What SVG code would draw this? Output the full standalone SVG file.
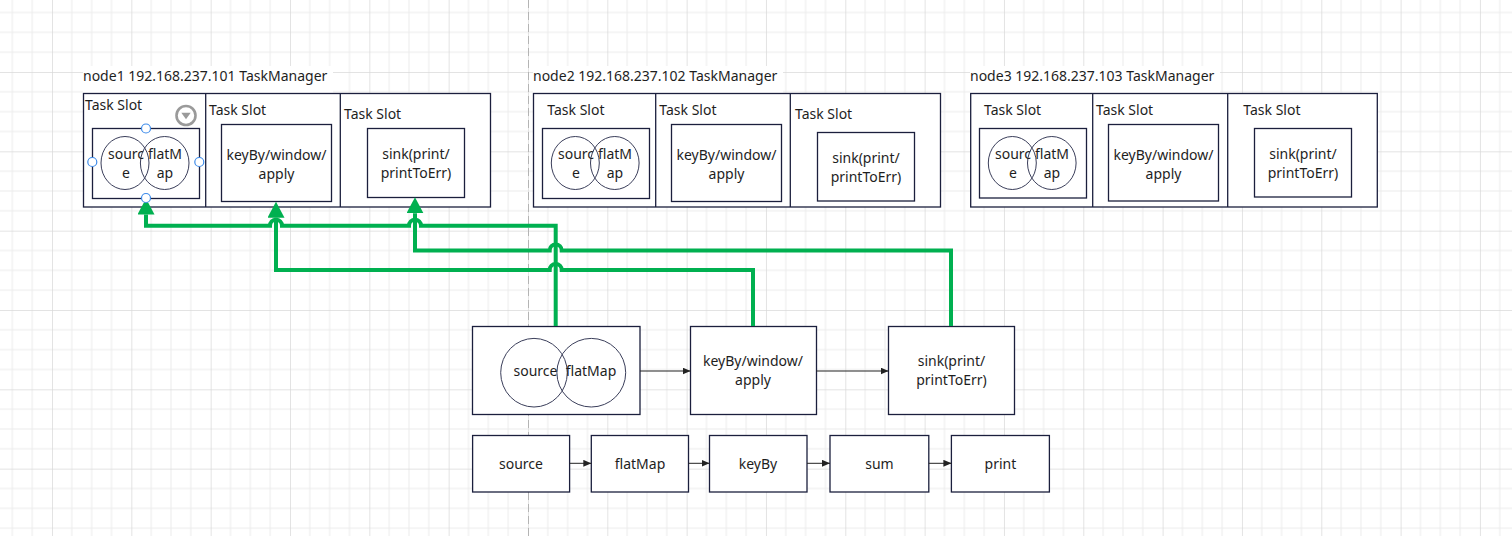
<svg xmlns="http://www.w3.org/2000/svg" width="1512" height="536" viewBox="0 0 1512 536">
<style>
text{font-family:"Noto Sans","Liberation Sans",Arial,sans-serif;font-size:14px;fill:#1e1e1e}
.c{text-anchor:middle}
.box{fill:#fff;stroke:#1b1f3d;stroke-width:1.3}
.div{stroke:#1b1f3d;stroke-width:1.3}
.ell{fill:none;stroke:#3a3e5a;stroke-width:1}
.lbl{fill:#fff}
.flow{fill:none;stroke:#222;stroke-width:1}
.deploy{fill:none;stroke:#00b050;stroke-width:4;stroke-linejoin:miter}
.handle{fill:#fff;stroke:#3d8bea;stroke-width:1.2}
</style>
<defs>
<pattern id="grid" x="52" y="72" width="79.33" height="79.33" patternUnits="userSpaceOnUse">
<rect width="79.33" height="79.33" fill="#fff"/>
<rect x="19.33" y="0" width="1" height="79.33" fill="#ececec"/>
<rect x="39.17" y="0" width="1" height="79.33" fill="#ececec"/>
<rect x="59" y="0" width="1" height="79.33" fill="#ececec"/>
<rect x="0" y="19.33" width="79.33" height="1" fill="#ececec"/>
<rect x="0" y="39.17" width="79.33" height="1" fill="#ececec"/>
<rect x="0" y="59" width="79.33" height="1" fill="#ececec"/>
<rect x="-0.5" y="0" width="1.2" height="79.33" fill="#d8d8d8"/>
<rect x="0" y="-0.5" width="79.33" height="1.2" fill="#d8d8d8"/>
</pattern>
<marker id="ah" viewBox="0 0 8 7" refX="8" refY="3.5" markerWidth="8" markerHeight="7" markerUnits="userSpaceOnUse" orient="auto">
<path d="M0,0 L8,3.5 L0,7 z" fill="#222"/>
</marker>
<marker id="gh" viewBox="0 0 16 17" refX="0" refY="8.5" markerWidth="16" markerHeight="17" markerUnits="userSpaceOnUse" orient="auto">
<path d="M0,0 L16,8.5 L0,17 z" fill="#00b050"/>
</marker>
</defs>
<rect width="1512" height="536" fill="url(#grid)"/>
<line x1="528.5" y1="0" x2="528.5" y2="536" stroke="#b4b4b4" stroke-width="1" stroke-dasharray="8,4"/>

<g id="node1">
<rect class="lbl" x="83" y="66" width="250" height="27"/>
<text x="83" y="81">node1 192.168.237.101 TaskManager</text>
<rect class="box" x="83.5" y="93.5" width="407" height="113.5"/>
<line class="div" x1="205.7" y1="93.5" x2="205.7" y2="207"/>
<line class="div" x1="340.3" y1="93.5" x2="340.3" y2="207"/>
<g id="node1-slot1">
<text x="85" y="110">Task Slot</text>
<rect class="box" x="92.5" y="128.5" width="107" height="70"/>
<ellipse class="ell" cx="125" cy="163" rx="24" ry="26.5"/>
<ellipse class="ell" cx="164.7" cy="163" rx="24.3" ry="26.5"/>
<text class="c" x="126" y="159">sourc</text>
<text class="c" x="126" y="178">e</text>
<text class="c" x="165" y="159">flatM</text>
<text class="c" x="165" y="178">ap</text>
</g>
<g id="node1-slot2">
<text x="209" y="114.5">Task Slot</text>
<rect class="box" x="221.5" y="124.5" width="110" height="77"/>
<text class="c" x="276.5" y="159.5">keyBy/window/</text>
<text class="c" x="276.5" y="178.5">apply</text>
</g>
<g id="node1-slot3">
<text x="344" y="118.5">Task Slot</text>
<rect class="box" x="367.5" y="128.5" width="97" height="69"/>
<text class="c" x="416" y="159">sink(print/</text>
<text class="c" x="416" y="178">printToErr)</text>
</g>
</g>

<g id="node2">
<rect class="lbl" x="533" y="66" width="250" height="27"/>
<text x="533" y="81">node2 192.168.237.102 TaskManager</text>
<rect class="box" x="533.5" y="93.5" width="407" height="113.5"/>
<line class="div" x1="655.7" y1="93.5" x2="655.7" y2="207"/>
<line class="div" x1="790.3" y1="93.5" x2="790.3" y2="207"/>
<g id="node2-slot1">
<text x="547.3" y="114.5">Task Slot</text>
<rect class="box" x="542.5" y="128.5" width="107" height="70"/>
<ellipse class="ell" cx="575.3" cy="163" rx="24" ry="26.5"/>
<ellipse class="ell" cx="614.8" cy="163" rx="24.3" ry="26.5"/>
<text class="c" x="576" y="159">sourc</text>
<text class="c" x="576" y="178">e</text>
<text class="c" x="615" y="159">flatM</text>
<text class="c" x="615" y="178">ap</text>
</g>
<g id="node2-slot2">
<text x="659.3" y="114.5">Task Slot</text>
<rect class="box" x="671.5" y="124.5" width="110" height="77"/>
<text class="c" x="726.5" y="159.5">keyBy/window/</text>
<text class="c" x="726.5" y="178.5">apply</text>
</g>
<g id="node2-slot3">
<text x="795" y="118.5">Task Slot</text>
<rect class="box" x="817.5" y="132.5" width="97" height="68.5"/>
<text class="c" x="866" y="162.5">sink(print/</text>
<text class="c" x="866" y="181.5">printToErr)</text>
</g>
</g>

<g id="node3">
<rect class="lbl" x="970" y="66" width="250" height="27"/>
<text x="970" y="81">node3 192.168.237.103 TaskManager</text>
<rect class="box" x="970.7" y="93.5" width="406.6" height="113.5"/>
<line class="div" x1="1092.7" y1="93.5" x2="1092.7" y2="207"/>
<line class="div" x1="1227.7" y1="93.5" x2="1227.7" y2="207"/>
<g id="node3-slot1">
<text x="984" y="114.5">Task Slot</text>
<rect class="box" x="979.5" y="128.5" width="107" height="69.5"/>
<ellipse class="ell" cx="1012.3" cy="163" rx="24" ry="26.5"/>
<ellipse class="ell" cx="1051.8" cy="163" rx="24.3" ry="26.5"/>
<text class="c" x="1013" y="159">sourc</text>
<text class="c" x="1013" y="178">e</text>
<text class="c" x="1052" y="159">flatM</text>
<text class="c" x="1052" y="178">ap</text>
</g>
<g id="node3-slot2">
<text x="1096" y="114.5">Task Slot</text>
<rect class="box" x="1108.5" y="124.5" width="110" height="76.5"/>
<text class="c" x="1163.5" y="159.5">keyBy/window/</text>
<text class="c" x="1163.5" y="178.5">apply</text>
</g>
<g id="node3-slot3">
<text x="1243.3" y="114.5">Task Slot</text>
<rect class="box" x="1254.5" y="128.5" width="97" height="68.5"/>
<text class="c" x="1303" y="159">sink(print/</text>
<text class="c" x="1303" y="178">printToErr)</text>
</g>
</g>

<g id="op-source-flatmap">
<rect class="box" x="472.5" y="326.5" width="167.5" height="88"/>
<ellipse class="ell" cx="534" cy="372.7" rx="33.3" ry="34.3"/>
<ellipse class="ell" cx="591.3" cy="372.7" rx="34.4" ry="34.3"/>
<text class="c" x="535.5" y="376">source</text>
<text class="c" x="591" y="376">flatMap</text>
</g>
<g id="op-keyby-window-apply">
<rect class="box" x="690.5" y="326.5" width="126" height="88"/>
<text class="c" x="753" y="366">keyBy/window/</text>
<text class="c" x="753" y="385">apply</text>
</g>
<g id="op-sink">
<rect class="box" x="888.5" y="326.5" width="126" height="88"/>
<text class="c" x="951.5" y="366">sink(print/</text>
<text class="c" x="951.5" y="385">printToErr)</text>
</g>

<g id="step-source"><rect class="box" x="472.6" y="435.5" width="97" height="56.5"/><text class="c" x="521" y="469">source</text></g>
<g id="step-flatmap"><rect class="box" x="591.3" y="435.5" width="97.2" height="56.5"/><text class="c" x="640" y="469">flatMap</text></g>
<g id="step-keyby"><rect class="box" x="709.5" y="435.5" width="97.5" height="56.5"/><text class="c" x="758" y="469">keyBy</text></g>
<g id="step-sum"><rect class="box" x="830" y="435.5" width="98.8" height="56.5"/><text class="c" x="879.4" y="469">sum</text></g>
<g id="step-print"><rect class="box" x="951.4" y="435.5" width="98" height="56.5"/><text class="c" x="1000.4" y="469">print</text></g>

<g id="connectors">
<path class="flow" d="M640,371 H690.5" marker-end="url(#ah)"/>
<path class="flow" d="M816.5,371 H888.5" marker-end="url(#ah)"/>
<path class="flow" d="M569.5,463.3 H591.3" marker-end="url(#ah)"/>
<path class="flow" d="M688.5,463.3 H709.5" marker-end="url(#ah)"/>
<path class="flow" d="M807,463.3 H830" marker-end="url(#ah)"/>
<path class="flow" d="M928.8,463.3 H951.4" marker-end="url(#ah)"/>
<path class="deploy" d="M555.7,326 V225.7 H421 A6,6 0 0 0 409,225.7 H282 A6,6 0 0 0 270,225.7 H146 V214.5" marker-end="url(#gh)"/>
<path class="deploy" d="M753,326 V270 H561.7 A6,6 0 0 0 549.7,270 H276 V217.7" marker-end="url(#gh)"/>
<path class="deploy" d="M951,326 V250.5 H561.7 A6,6 0 0 0 549.7,250.5 H415 V213.3" marker-end="url(#gh)"/>
</g>

<g id="selection-handles">
<circle class="handle" cx="146" cy="128.5" r="4.5"/>
<circle class="handle" cx="92.3" cy="162" r="4.5"/>
<circle class="handle" cx="199.3" cy="162" r="4.5"/>
<circle class="handle" cx="146" cy="198" r="4.5"/>
<circle cx="186" cy="115.5" r="9.5" fill="#fff" stroke="#9a9a9a" stroke-width="2.6"/>
<path d="M181.3,112.7 L190.7,112.7 L186,119.3 z" fill="#9a9a9a"/>
</g>
</svg>
